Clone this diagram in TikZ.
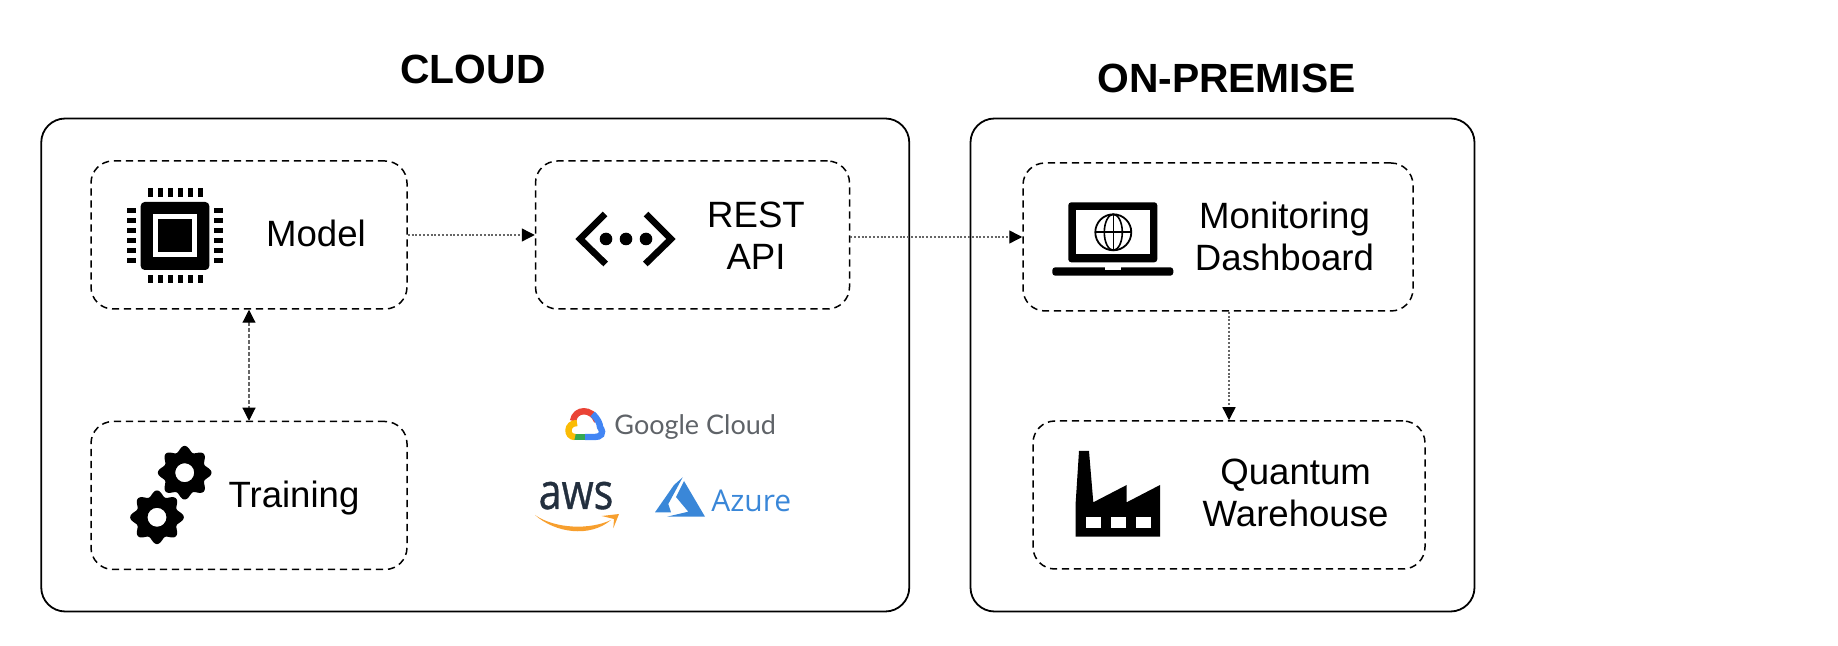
\documentclass[tikz,border=0pt]{standalone}
\usepackage{fontspec}
\setmainfont{Liberation Sans}
\setsansfont{Liberation Sans}
\newfontfamily\logofont{Open Sans}
\newfontfamily\awsfont[FakeBold=0.8]{Open Sans}
\newfontfamily\gcfont{Lato}
\usetikzlibrary{positioning}
\usetikzlibrary{arrows.meta}
\definecolor{gcgray}{HTML}{5F6368}
\definecolor{awsdark}{HTML}{232F3E}
\definecolor{awsorange}{HTML}{F79F2E}
\definecolor{azureblue}{HTML}{3A87D8}
\definecolor{gcred}{HTML}{EA4335}
\definecolor{gcblue}{HTML}{4285F4}
\definecolor{gcgreen}{HTML}{34A853}
\definecolor{gcyellow}{HTML}{FBBC05}
\tikzset{
	gearicon/.pic={
		\fill[even odd rule] plot[domain=0:360, samples=145] ({(24+2.8*cos(8*\x))*cos(\x)}, {(24+2.8*cos(8*\x))*sin(\x)}) -- cycle (0,0) circle (9.5);
	}
}

\begin{document}
\begin{tikzpicture}[x=0.5pt, y=-0.5pt, ->, >=stealth, node distance=3.5cm, font=\sffamily]
	\tikzstyle{group}=[draw=black, line width=0.9pt, rectangle, rounded corners=12pt, minimum height=246.5pt, inner sep=0pt]
	\tikzstyle{block}=[draw=black, line width=0.75pt, dash pattern=on 3.6pt off 2.4pt, rectangle, rounded corners=11pt, minimum height=74pt, inner sep=0pt]
	\tikzstyle{title}=[font=\fontsize{20.4}{24}\selectfont\bfseries, inner sep=0pt]
	\tikzstyle{annot}=[font=\fontsize{18.3}{21}\selectfont, align=center, inner sep=0pt]
	\tikzstyle{flow}=[draw=black!60, line width=0.7pt, dash pattern=on 1pt off 0.9pt, -{Stealth[inset=0pt, length=6.5pt, width=6.5pt, black]}]
	\tikzstyle{link}=[draw=black!60, line width=0.55pt, dash pattern=on 2pt off 1pt, {Stealth[inset=0pt, length=6.5pt, width=6.5pt, black]}-{Stealth[inset=0pt, length=6.5pt, width=6.5pt, black]}]

	\useasboundingbox (0,0) rectangle (1838,646);

	\node[group, minimum width=434pt] (cloudbox) at (475.25,365) {};
	\node[group, minimum width=252pt] (prembox) at (1222.5,365) {};
	\node[title] (cloudlabel) at (473,69.5) {CLOUD};
	\node[title] (premlabel) at (1226.5,78.5) {ON-PREMISE};

	\node[block, minimum width=158pt] (model) at (249,235) {};
	\node[block, minimum width=157pt, right=63.5pt of model] (rest) {};
	\node[block, minimum width=158pt, below=55.5pt of model] (training) {};
	\node[block, minimum width=195pt] (monitor) at (1218,237) {};
	\node[block, minimum width=196pt] (quantum) at (1229,495) {};

	\node[annot] (modeltext) at (316,233) {Model};
	\node[annot] (resttext) at (756,235.6) {REST \\ API};
	\node[annot] (trainingtext) at (294,498) {Training};
	\node[annot] (monitortext) at (1284.5,236.7) {Monitoring \\ Dashboard};
	\node[annot] (quantumtext) at (1295.6,493) {Quantum \\ Warehouse};

	\path[flow] (model) -- (rest);
	\path[flow] (rest.east |- monitor.west) -- (monitor);
	\path[flow] (quantum.north |- monitor.south) -- (quantum);
	\path[link] (model) -- (training);

	\begin{scope}[-]
	% chip
	\fill[rounded corners=2pt] (140.7,202) rectangle (209.3,270);
	\fill[white] (153,214) rectangle (197,257);
	\fill (158,219) rectangle (192,252);
	\foreach \i in {0,...,5} {
		\fill ({147.5+10*\i},188.5) rectangle ++(5.2,8.5);
		\fill ({147.5+10*\i},275) rectangle ++(5.2,8.5);
		\fill (127,{208.5+10*\i}) rectangle ++(9,4.6);
		\fill (214,{208.5+10*\i}) rectangle ++(9,4.6);
	}

	% rest brackets
	\draw[line width=3.3pt] (605,214) -- (580,239) -- (605.7,264);
	\draw[line width=3.3pt] (646,214) -- (671,239) -- (645.3,264);
	\foreach \i in {0,1,2} {
		\fill ({606+20*\i},239) circle (6.3);
	}

	% gears
	\pic at (184.7,472.7) {gearicon};
	\pic at (157,517.3) {gearicon};

	% laptop
	\fill[rounded corners=1.5pt] (1068.3,202.3) -- (1157.3,202.3) -- (1157.3,262.3) -- (1068.3,262.3) -- cycle;
	\fill[white] (1076,210) rectangle (1150,254.3);
	\fill[rounded corners=1.5pt] (1052.3,267.3) -- (1173.3,267.3) -- (1173.3,275.7) -- (1052.3,275.7) -- cycle;
	\fill[white] (1105,267) rectangle (1121,270);
	\draw[line width=0.9pt] (1113.3,232.3) circle (18);
	\draw[line width=0.8pt] (1113.3,232.3) ellipse (9 and 18);
	\draw[line width=0.8pt] (1113.3,214.3) -- (1113.3,250.3);
	\draw[line width=0.8pt] (1095.3,232.3) -- (1131.3,232.3);

	% factory
	\fill (1079,451) -- (1089,451) -- (1093.3,502.3) -- (1126.7,485) -- (1126.7,502.3) -- (1160,485) -- (1160,536.7) -- (1075.7,536.7) -- (1075.7,502.3) -- cycle;
	\foreach \i in {0,1,2} {
		\fill[white] ({1085.7+25*\i},516.7) rectangle ++(15,11);
	}

	% google cloud
	\draw[gcred, line width=3.2pt] (573,421) .. controls (575,408) and (592,408) .. (597,421);
	\draw[gcblue, line width=3.2pt] (592.5,414) .. controls (598,419) and (600,424) .. (600,427) .. controls (605,434) and (600,437) .. (595,437) -- (585,437);
	\draw[gcgreen, line width=3.2pt] (585,437) -- (574,437);
	\draw[gcyellow, line width=3.2pt] (577,423) .. controls (566,423) and (566,437) .. (575,437);
	\node[font=\gcfont\fontsize{13.5}{16}\selectfont, text=gcgray, anchor=base west, inner sep=0pt] (gctext) at (614,435) {Google Cloud};

	% aws
	\node[font=\awsfont\fontsize{20}{24}\selectfont, text=awsdark, anchor=base, inner sep=0pt] (awstext) at (576,509) {\scalebox{1.03}[1.25]{aws}};
	\fill[awsorange] (535,515) .. controls (555,533) and (590,538) .. (611,520) .. controls (590,530) and (555,529) .. (535,515) -- cycle;
	\fill[awsorange] (601.7,516) -- (619,514) -- (613.3,528.3) -- (614,519) -- cycle;

	% azure
	\fill[azureblue] (655,512.3) -- (674,485) -- (682.7,477.3) -- (668.3,504) -- (671,512.3) -- cycle;
	\fill[azureblue] (684,481) -- (705,516.7) -- (667,516.7) -- (688.3,511.7) -- (676,497) -- cycle;
	\node[font=\logofont\fontsize{15}{18}\selectfont, text=azureblue, anchor=base west, inner sep=0pt] (azuretext) at (711,512) {Azure};
	\end{scope}
\end{tikzpicture}
\end{document}
